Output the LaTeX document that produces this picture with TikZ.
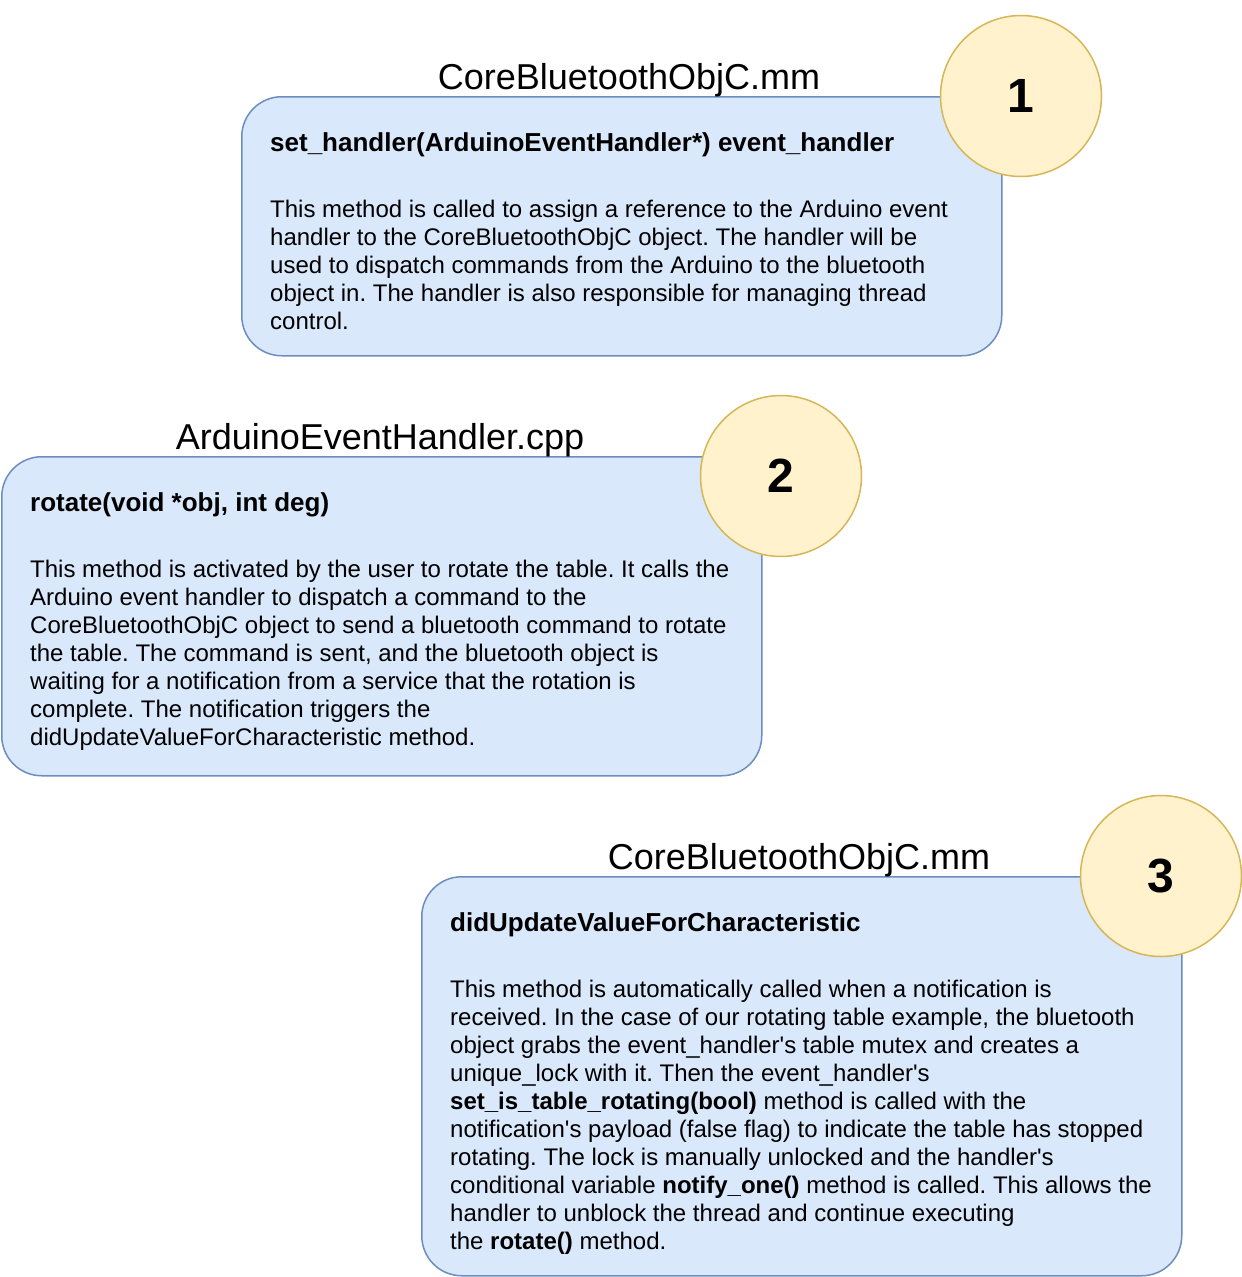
\documentclass[tikz,border=0pt]{standalone}
\usepackage{fontspec}
\setmainfont{Liberation Sans}
\definecolor{boxfill}{HTML}{DAE8FC}
\definecolor{boxdraw}{HTML}{6C8EBF}
\definecolor{circfill}{HTML}{FFF2CC}
\definecolor{circdraw}{HTML}{D6B656}
\newcommand{\apo}{\textquotesingle}
\frenchspacing
\begin{document}
\begin{tikzpicture}[x=1pt,y=-1pt,
  methodbox/.style={draw=boxdraw, fill=boxfill, line width=1.5pt, rounded corners=40pt, anchor=north west, inner sep=0pt},
  numcircle/.style={circle, draw=circdraw, fill=circfill, line width=1.5pt, minimum size=161pt, inner sep=0pt, font=\fontsize{48}{48}\selectfont\bfseries},
  titletext/.style={font=\fontsize{36}{40}\selectfont, inner sep=0pt, anchor=base},
  headtext/.style={font=\fontsize{26}{30}\selectfont\bfseries, inner sep=0pt, anchor=base west},
  bodytext/.style={font=\fontsize{24}{28}\selectfont, inner sep=0pt, anchor=base west, align=left}]
\useasboundingbox (0,0) rectangle (1242,1277);

% box 1
\node[methodbox, minimum width=760pt, minimum height=259pt] (box1) at (241,96) {};
\node[titletext] (title1) at (629,89) {CoreBluetoothObjC.mm};
\node[headtext] (head1) at (270,151) {set\_handler(ArduinoEventHandler*) event\_handler};
\node[bodytext] (body1) at (270,329) {This method is called to assign a reference to the Arduino event\\
handler to the CoreBluetoothObjC object. The handler will be\\
used to dispatch commands from the Arduino to the bluetooth\\
object in. The handler is also responsible for managing thread\\
control.};
\node[numcircle] (num1) at (1021,96) {1};

% box 2
\node[methodbox, minimum width=760pt, minimum height=319pt] (box2) at (1,456) {};
\node[titletext] (title2) at (380,449) {ArduinoEventHandler.cpp};
\node[headtext] (head2) at (30,511) {rotate(void *obj, int deg)};
\node[bodytext] (body2) at (30,745) {This method is activated by the user to rotate the table. It calls the\\
Arduino event handler to dispatch a command to the\\
CoreBluetoothObjC object to send a bluetooth command to rotate\\
the table. The command is sent, and the bluetooth object is\\
waiting for a notification from a service that the rotation is\\
complete. The notification triggers the\\
didUpdateValueForCharacteristic method.};
\node[numcircle] (num2) at (781,476) {2};

% box 3
\node[methodbox, minimum width=760pt, minimum height=399pt] (box3) at (421,876) {};
\node[titletext] (title3) at (799,869) {CoreBluetoothObjC.mm};
\node[headtext] (head3) at (450,931) {didUpdateValueForCharacteristic};
\node[bodytext] (body3) at (450,1249) {This method is automatically called when a notification is\\
received. In the case of our rotating table example, the bluetooth\\
object grabs the event\_handler\apo s table mutex and creates a\\
unique\_lock with it. Then the event\_handler\apo s\\
\textbf{set\_is\_table\_rotating(bool)} method is called with the\\
notification\apo s payload (false flag) to indicate the table has stopped\\
rotating. The lock is manually unlocked and the handler\apo s\\
conditional variable \textbf{notify\_one()} method is called. This allows the\\
handler to unblock the thread and continue executing\\
the \textbf{rotate()} method.};
\node[numcircle] (num3) at (1161,876) {3};
\end{tikzpicture}
\end{document}
